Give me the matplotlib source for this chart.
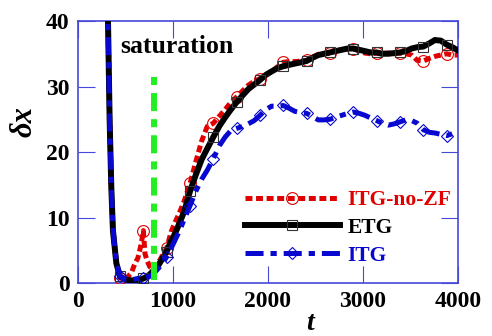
import matplotlib
matplotlib.use("Agg")
import matplotlib.pyplot as plt

# ---------------- data ----------------
t = [290, 316, 333, 351, 368, 386, 404, 442, 500, 560, 600, 630, 650, 670, 688, 705,
     725, 755, 800, 850, 900, 933, 980, 1020, 1070, 1120, 1179, 1240, 1300, 1360,
     1425, 1490, 1550, 1610, 1670, 1730, 1793, 1855, 1916, 1980, 2038, 2100, 2161,
     2220, 2284, 2350, 2407, 2470, 2530, 2590, 2653, 2710, 2775, 2840, 2898, 2960,
     3021, 3080, 3144, 3200, 3266, 3330, 3389, 3450, 3512, 3570, 3635, 3700, 3757,
     3820, 3880, 3940, 4000]

itg_nozf = [45, 40, 25, 14.5, 8, 5.5, 3, 0.8, 0.6, 1.5, 3.0, 3.8, 5.0, 6.3, 8.0, 4.5,
            3.5, 2.5, 2.0, 3.2, 4.5, 5.3, 7.8, 9.2, 10.8, 12.6, 15.2, 18.5, 21.6, 23.9,
            24.4, 25.5, 26.5, 27.6, 28.4, 29.3, 30.2, 30.8, 31.2, 31.8, 32.3, 33.0, 33.7,
            33.8, 33.8, 33.9, 34.0, 34.5, 34.9, 35.0, 35.1, 35.4, 35.6, 35.8, 35.8, 35.4,
            35.1, 35.0, 35.1, 35.1, 35.1, 35.1, 35.1, 35.0, 34.8, 34.0, 33.9, 34.3, 34.6,
            34.8, 35.0, 34.8, 34.8]

etg = [45, 40, 25, 14.5, 8, 5.5, 3, 1.0, 0.5, 0.4, 0.4, 0.4, 0.5, 0.6, 0.7, 0.8,
       1.0, 1.3, 2.0, 2.8, 4.0, 4.8, 6.4, 7.5, 9.2, 11.0, 14.0, 16.5, 18.8, 20.5,
       22.3, 24.0, 25.3, 26.5, 27.6, 28.6, 29.6, 30.3, 31.0, 31.8, 32.3, 32.8, 33.1,
       33.3, 33.5, 33.7, 33.9, 34.4, 34.8, 35.0, 35.2, 35.4, 35.6, 35.8, 35.8, 35.6,
       35.4, 35.2, 35.2, 35.0, 35.0, 35.1, 35.2, 35.4, 35.8, 36.0, 36.1, 36.6, 37.1,
       37.0, 36.4, 36.0, 35.5]

itg = [45, 40, 25, 14.5, 8.5, 5.5, 3.2, 1.0, 0.5, 0.5, 0.6, 0.7, 0.8, 0.8, 0.8, 0.8,
       0.9, 1.0, 1.5, 2.3, 3.2, 4.0, 5.3, 6.5, 8.0, 9.8, 11.8, 14.0, 15.8, 17.2,
       19.0, 21.0, 22.3, 23.3, 23.6, 23.9, 24.3, 24.8, 25.6, 26.5, 27.0, 27.0, 27.1,
       26.7, 26.2, 26.0, 25.9, 25.4, 24.9, 24.9, 25.0, 25.3, 25.6, 25.9, 26.1, 25.9,
       25.6, 25.2, 24.8, 24.4, 24.1, 24.3, 24.6, 24.9, 24.8, 24.4, 23.4, 23.0, 22.9,
       22.7, 22.5, 22.8, 22.9]

marker_times = [442, 688, 933, 1179, 1425, 1670, 1916, 2161, 2407, 2653, 2898,
                3144, 3389, 3635, 3880]

sat_time = 800
sat_range = [0.5, 32]

labels = ["ITG-no-ZF", "ETG", "ITG"]
xticks = [0, 1000, 2000, 3000, 4000]
yticks = [0, 10, 20, 30, 40]

# ---------------- style ----------------
plt.rcParams['font.family'] = ['Liberation Serif', 'DejaVu Serif']
plt.rcParams['font.weight'] = 'bold'
plt.rcParams['lines.scale_dashes'] = False

RED = '#e00000'
BLUE = '#0808d0'
GREEN = '#22ee22'
AXC = '#4848d8'

fig = plt.figure(figsize=(4.92, 3.36), dpi=100)
ax = fig.add_axes([0.1585, 0.1577, 0.7724, 0.7798])

mk = [t.index(m) for m in marker_times]

ax.plot(t, itg_nozf, color=RED, lw=3.6, ls=(0, (5, 2.6)),
        marker='o', markevery=mk, ms=8.5, mfc='none', mec=RED, mew=0.8,
        label=labels[0], zorder=3)
ax.plot(t, etg, color='black', lw=4.3, ls='-',
        marker='s', markevery=mk, ms=7.5, mfc='none', mec='#333333', mew=0.8,
        label=labels[1], zorder=4)
ax.plot(t, itg, color=BLUE, lw=3.6, ls=(0, (13, 5, 4.5, 5)),
        marker='D', markevery=mk, ms=6.5, mfc='none', mec=BLUE, mew=0.8,
        label=labels[2], zorder=5)

ax.plot([sat_time, sat_time], sat_range, color=GREEN, lw=4.3,
        ls=(0, (13, 5.8, 5.8, 5.8)), zorder=6)

ax.text(442, 35.1, 'saturation', fontsize=18.5, fontweight='bold', color='black')

ax.set_xlim(0, 4000)
ax.set_ylim(0, 40)
ax.set_xticks(xticks)
ax.set_yticks(yticks)
ax.tick_params(direction='in', length=12, width=0.8, color=AXC,
               top=True, right=True, labelsize=17, pad=6)
for lab in ax.get_xticklabels() + ax.get_yticklabels():
    lab.set_fontweight('bold')
for s in ax.spines.values():
    s.set_color(AXC)
    s.set_linewidth(1.2)

ax.set_xlabel('t', fontsize=20, fontstyle='italic', fontweight='bold')
ax.xaxis.set_label_coords(0.61, -0.105)
ax.set_ylabel('δx', fontsize=22, fontstyle='italic', fontweight='bold')
ax.yaxis.set_label_coords(-0.105, 0.615)

leg = ax.legend(loc='center left', bbox_to_anchor=(0.388, 0.21), frameon=False,
                handlelength=4.4, handletextpad=0.37,
                labelspacing=0.35, numpoints=1, labelcolor='linecolor',
                prop={'weight': 'bold', 'size': 15.5})

fig.savefig('out.png', dpi=100)
